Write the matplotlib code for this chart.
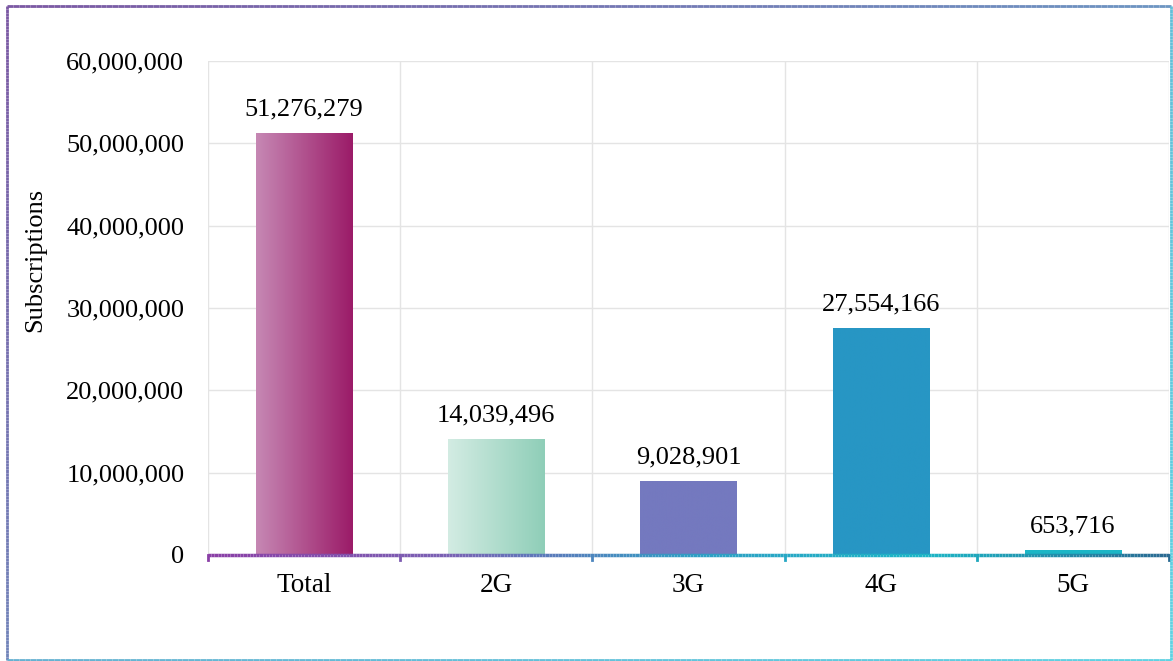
import matplotlib
matplotlib.use("Agg")
import matplotlib.pyplot as plt
import numpy as np
from matplotlib.collections import LineCollection
from matplotlib.colors import LinearSegmentedColormap
from matplotlib.ticker import FuncFormatter, MultipleLocator

# data
categories = ["Total", "2G", "3G", "4G", "5G"]
subscriptions = [51276279, 14039496, 9028901, 27554166, 653716]

# colours: (left, right) of each bar's horizontal gradient
bar_colors = [
    ("#c688b4", "#9b1b68"),
    ("#d3ece3", "#8fceb8"),
    ("#7479bf", "#7479bf"),
    ("#2796c4", "#2796c4"),
    ("#1cb6c6", "#1cb6c6"),
]

plt.rcParams["font.family"] = ["Liberation Serif", "DejaVu Serif"]
plt.rcParams["font.size"] = 19

fig = plt.figure(figsize=(11.73, 6.61), dpi=100)
ax = fig.add_axes([0.1773, 0.1604, 0.8193, 0.7473])

x = np.arange(len(categories))
bars = ax.bar(x, subscriptions, width=0.5, color="none", zorder=3)

for b, (c1, c2) in zip(bars, bar_colors):
    cmap = LinearSegmentedColormap.from_list("g", [c1, c2])
    grad = np.linspace(0, 1, 256).reshape(1, -1)
    x0, y0 = b.get_x(), b.get_y()
    im = ax.imshow(grad, cmap=cmap, aspect="auto", zorder=3,
                   extent=[x0, x0 + b.get_width(), y0, y0 + b.get_height()])
    im.set_clip_path(b)

for xi, v in zip(x, subscriptions):
    ax.annotate(f"{v:,}", (xi, v), xytext=(0, 9), textcoords="offset points",
                ha="center", va="bottom", fontsize=19)

ax.set_xlim(-0.5, len(categories) - 0.5)
ax.set_ylim(0, 60000000)
ax.yaxis.set_major_locator(MultipleLocator(10000000))
ax.yaxis.set_major_formatter(FuncFormatter(lambda v, p: f"{int(v):,}"))
ax.set_xticks(x)
ax.set_xticklabels(categories, fontsize=19.5)
ax.tick_params(axis="x", length=0, pad=13)
ax.tick_params(axis="y", length=0, pad=17)

# grid
for gy in range(0, 60000001, 10000000):
    ax.axhline(gy, color="#e4e4e4", lw=1, zorder=1)
for gx in np.arange(-0.5, len(categories), 1.0):
    ax.axvline(gx, color="#e4e4e4", lw=1, zorder=1)

for s in ax.spines.values():
    s.set_visible(False)

# gradient x axis line with boundary ticks
axis_cmap = LinearSegmentedColormap.from_list(
    "ax", ["#8a3fa6", "#7a62b4", "#2f9ec4", "#1cb6c6", "#2a6a92"])
xs = np.linspace(-0.5, len(categories) - 0.5, 300)
segs = [[(xs[i], 0), (xs[i + 1], 0)] for i in range(len(xs) - 1)]
lc = LineCollection(segs, colors=axis_cmap(np.linspace(0, 1, len(segs))),
                    lw=2.5, zorder=4, clip_on=False)
ax.add_collection(lc)
for gx in np.arange(-0.5, len(categories), 1.0):
    frac = (gx + 0.5) / len(categories)
    ax.plot([gx, gx], [0, -650000], color=axis_cmap(frac), lw=2,
            clip_on=False, zorder=4)

fig.text(35 / 1173, 1 - 260 / 661, "Subscriptions", rotation=90,
         ha="center", va="center", fontsize=19)

# gradient frame round the figure
frame_cmap = LinearSegmentedColormap.from_list("fr", ["#7b58a3", "#6e8fbf", "#5fd2e2"])
L, R, B, T = 7 / 1173, 1171 / 1173, 1 - 660 / 661, 1 - 6 / 661
pts = np.linspace(0, 1, 200)
frame_segs, frame_cols = [], []
def edge(p0, p1, c0, c1):
    for i in range(len(pts) - 1):
        a, b2 = pts[i], pts[i + 1]
        frame_segs.append([(p0[0] + (p1[0] - p0[0]) * a, p0[1] + (p1[1] - p0[1]) * a),
                           (p0[0] + (p1[0] - p0[0]) * b2, p0[1] + (p1[1] - p0[1]) * b2)])
        frame_cols.append(frame_cmap(c0 + (c1 - c0) * a))
edge((L, T), (R, T), 0.0, 0.55)
edge((R, T), (R, B), 0.85, 1.0)
edge((L, T), (L, B), 0.0, 0.4)
edge((L, B), (R, B), 0.75, 1.0)
fig.add_artist(LineCollection(frame_segs, colors=frame_cols, lw=2,
                              transform=fig.transFigure))

fig.savefig("out.png", dpi=100)
